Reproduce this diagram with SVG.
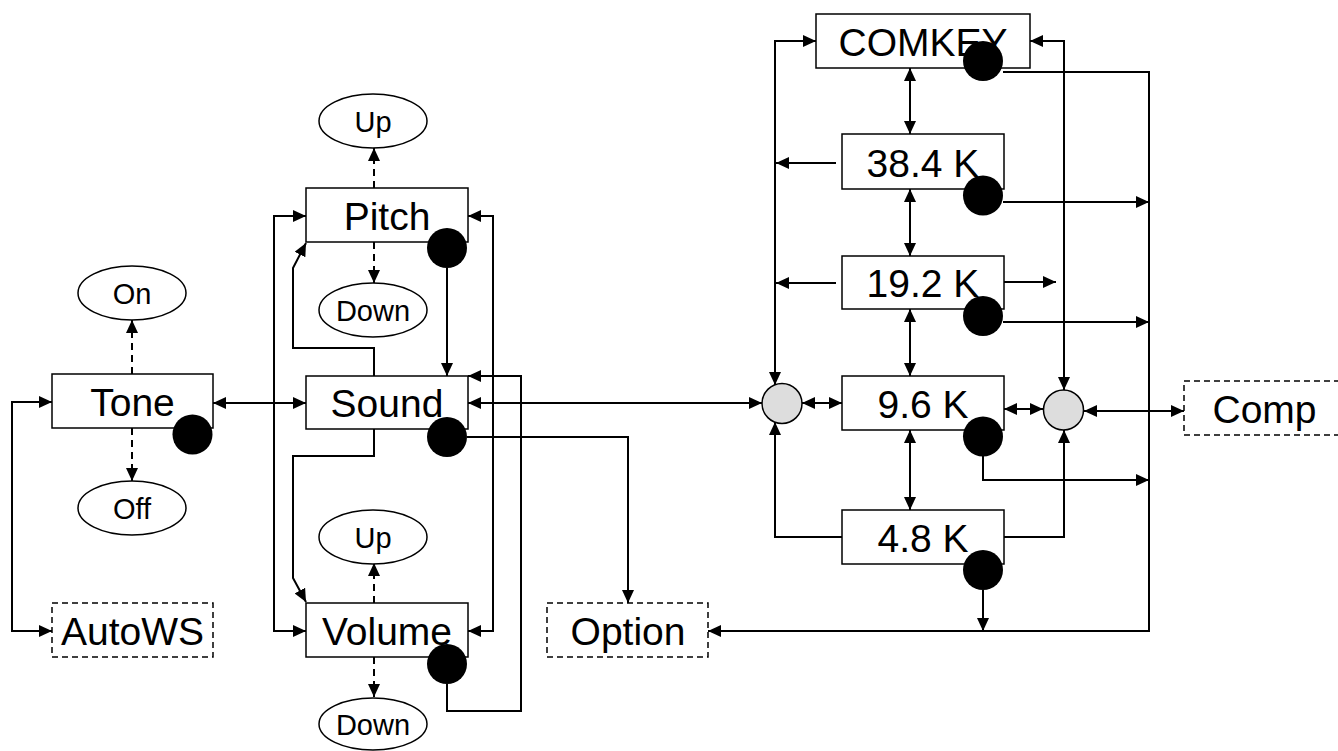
<svg xmlns="http://www.w3.org/2000/svg" width="1338" height="751" viewBox="0 0 1338 751">
<style>
.box{fill:#fff;stroke:#000;stroke-width:1.5}
.dbox{fill:#fff;stroke:#000;stroke-width:1.5;stroke-dasharray:6,4}
.ell{fill:#fff;stroke:#000;stroke-width:1.5}
.dot{fill:#000}
.gray{fill:#ddd;stroke:#000;stroke-width:1.5}
.big{font-family:"Liberation Sans",Arial,sans-serif;font-size:39px;text-anchor:middle;fill:#000}
.small{font-family:"Liberation Sans",Arial,sans-serif;font-size:29px;text-anchor:middle;fill:#000}
.c{fill:none;stroke:#000;stroke-width:2}
.ca{fill:none;stroke:#000;stroke-width:2;marker-end:url(#ah)}
.cb{fill:none;stroke:#000;stroke-width:2;marker-end:url(#ah);marker-start:url(#ah)}
.cd{fill:none;stroke:#000;stroke-width:2;stroke-dasharray:7,5;marker-end:url(#ah)}
</style>
<defs>
<marker id="ah" markerUnits="userSpaceOnUse" markerWidth="13" markerHeight="12" refX="13" refY="6" orient="auto-start-reverse" viewBox="0 0 13 12">
<path d="M0,0 L13,6 L0,12 Z" fill="#000"/>
</marker>
</defs>
<rect width="1338" height="751" fill="#fff"/>

<g id="connectors">
<!-- left -->
<path class="cb" d="M52,402 H12 V631 H52"/>
<path class="cb" d="M213,403 H306"/>
<path class="cd" d="M132,374 V320"/>
<path class="cd" d="M132,428 V481"/>
<path class="cd" d="M374,188 V148"/>
<path class="cd" d="M374,242 V283"/>
<path class="cd" d="M374,603 V563"/>
<path class="cd" d="M374,657 V697"/>
<path class="cb" d="M306,216 H274 V631 H306"/>
<path class="cb" d="M468,216 H493 V631 H468"/>
<path class="ca" d="M447,268 V376"/>
<path class="ca" d="M374,376 V348 H293 V268 L306,243"/>
<path class="ca" d="M374,429 V456 H293 V578 L306,602"/>
<path class="ca" d="M447,684 V711 H521 V376 H468"/>
<path class="cb" d="M468,403 H762"/>
<path class="ca" d="M467,437 H628 V603"/>
<!-- right -->
<path class="cb" d="M816,41 H775 V385"/>
<path class="cb" d="M1030,41 H1064 V390"/>
<path class="ca" d="M1003,72 H1149 V631 H708"/>
<path class="cb" d="M910,68 V134"/>
<path class="cb" d="M910,189 V256"/>
<path class="cb" d="M910,309 V376"/>
<path class="cb" d="M910,430 V510"/>
<path class="ca" d="M836,163 H776"/>
<path class="ca" d="M836,283 H776"/>
<path class="ca" d="M1004,282 H1056"/>
<path class="ca" d="M1003,202 H1149"/>
<path class="ca" d="M1003,322 H1149"/>
<path class="ca" d="M983,456 V480 H1149"/>
<path class="ca" d="M983,590 V631"/>
<path class="ca" d="M842,537 H775 V422"/>
<path class="ca" d="M1004,537 H1064 V430"/>
<path class="cb" d="M802,403 H842"/>
<path class="cb" d="M1004,409 H1043"/>
<path class="cb" d="M1084,411 H1184"/>
</g>

<g id="on"><ellipse class="ell" cx="132" cy="293" rx="54" ry="27"/><text class="small" x="132" y="304">On</text></g>
<g id="off"><ellipse class="ell" cx="132" cy="508" rx="54" ry="27"/><text class="small" x="132" y="519">Off</text></g>
<g id="pitch-up"><ellipse class="ell" cx="373" cy="121" rx="54" ry="27"/><text class="small" x="373" y="132">Up</text></g>
<g id="pitch-down"><ellipse class="ell" cx="373" cy="310" rx="54" ry="27"/><text class="small" x="373" y="321">Down</text></g>
<g id="vol-up"><ellipse class="ell" cx="373" cy="537" rx="54" ry="27"/><text class="small" x="373" y="548">Up</text></g>
<g id="vol-down"><ellipse class="ell" cx="373" cy="724" rx="54" ry="26"/><text class="small" x="373" y="735">Down</text></g>

<g id="tone"><rect class="box" x="52" y="374" width="161" height="54"/><text class="big" x="132.5" y="416">Tone</text><circle class="dot" cx="192.5" cy="434.5" r="20"/></g>
<g id="autows"><rect class="dbox" x="52" y="603" width="161" height="54"/><text class="big" x="132.5" y="645">AutoWS</text></g>
<g id="pitch"><rect class="box" x="306" y="188" width="162" height="54"/><text class="big" x="387" y="230">Pitch</text><circle class="dot" cx="447" cy="248" r="20"/></g>
<g id="sound"><rect class="box" x="306" y="376" width="162" height="53"/><text class="big" x="387" y="417">Sound</text><circle class="dot" cx="447" cy="437" r="20"/></g>
<g id="volume"><rect class="box" x="306" y="603" width="162" height="54"/><text class="big" x="387" y="645">Volume</text><circle class="dot" cx="447" cy="664" r="20"/></g>
<g id="option"><rect class="dbox" x="547" y="603" width="161" height="54"/><text class="big" x="628" y="645">Option</text></g>

<g id="comkey"><rect class="box" x="816" y="14" width="214" height="54"/><text class="big" x="923" y="56">COMKEY</text><circle class="dot" cx="983" cy="61" r="20"/></g>
<g id="k384"><rect class="box" x="842" y="134" width="162" height="55"/><text class="big" x="923" y="176.5">38.4 K</text><circle class="dot" cx="983" cy="195.5" r="20"/></g>
<g id="k192"><rect class="box" x="842" y="256" width="162" height="53"/><text class="big" x="923" y="297">19.2 K</text><circle class="dot" cx="983" cy="316" r="20"/></g>
<g id="k96"><rect class="box" x="842" y="376" width="162" height="54"/><text class="big" x="923" y="418">9.6 K</text><circle class="dot" cx="983" cy="436.5" r="20"/></g>
<g id="k48"><rect class="box" x="842" y="510" width="162" height="54"/><text class="big" x="923" y="552">4.8 K</text><circle class="dot" cx="983" cy="570" r="20"/></g>
<g id="join-left"><circle class="gray" cx="782" cy="403.5" r="20"/></g>
<g id="join-right"><circle class="gray" cx="1063.5" cy="410" r="20"/></g>
<g id="comp"><rect class="dbox" x="1184" y="381" width="161" height="54"/><text class="big" x="1264.5" y="423">Comp</text></g>
</svg>
